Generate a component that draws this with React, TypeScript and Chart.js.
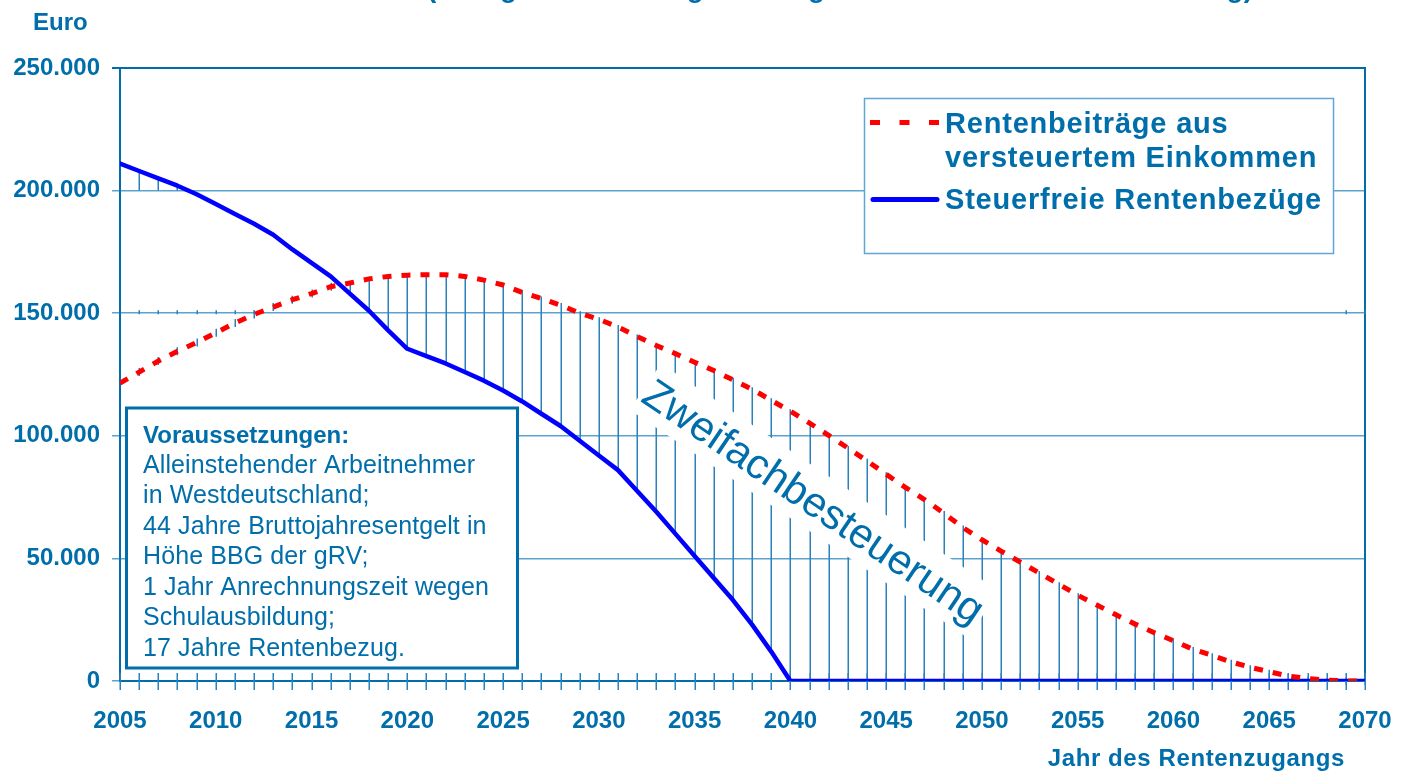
import React, { useEffect, useRef } from "react";
import { Chart, registerables } from "chart.js";

Chart.register(...registerables);

// ---------- data ----------
const years = [
  2005, 2006, 2007, 2008, 2009, 2010, 2011, 2012, 2013, 2014, 2015, 2016, 2017, 2018, 2019, 2020, 2021,
  2022, 2023, 2024, 2025, 2026, 2027, 2028, 2029, 2030, 2031, 2032, 2033, 2034, 2035, 2036, 2037, 2038,
  2039, 2040, 2041, 2042, 2043, 2044, 2045, 2046, 2047, 2048, 2049, 2050, 2051, 2052, 2053, 2054, 2055,
  2056, 2057, 2058, 2059, 2060, 2061, 2062, 2063, 2064, 2065, 2066, 2067, 2068, 2069, 2070,
];

// Rentenbeiträge aus versteuertem Einkommen (Euro)
const rentenbeitraege = [
  121500, 126000, 130500, 134500, 138000, 142000, 146000, 149500, 152500, 155500, 158000, 160800, 162300,
  164000, 165000, 165500, 165700, 165700, 165000, 163500, 161500, 158500, 156000, 153300, 150000, 147500,
  144400, 140500, 136800, 133500, 130000, 126600, 122800, 119000, 114500, 110000, 105200, 100200, 95000,
  89800, 84300, 79000, 74000, 68500, 62600, 57600, 53000, 48500, 44000, 39500, 35000, 31000, 27000, 23200,
  19700, 16400, 13000, 10500, 7800, 5600, 3800, 2000, 1000, 400, 0, 0,
];

// Steuerfreie Rentenbezüge (Euro)
const steuerfreieRente = [
  211000, 208000, 205000, 202000, 198500, 194500, 190500, 186500, 182000, 176000, 170500, 165000, 158000,
  151000, 143000, 135500, 132500, 129500, 126000, 122500, 118500, 114000, 109000, 104000, 98000, 92000,
  86000, 77500, 69000, 60000, 51000, 42000, 33000, 23000, 12000, 0, 0, 0, 0, 0, 0, 0, 0, 0, 0, 0, 0, 0, 0,
  0, 0, 0, 0, 0, 0, 0, 0, 0, 0, 0, 0, 0, 0, 0, 0, 0,
];

const seriesLabels = ["Rentenbeiträge aus versteuertem Einkommen", "Steuerfreie Rentenbezüge"];
const legendLines = [["Rentenbeiträge aus", "versteuertem Einkommen"], ["Steuerfreie Rentenbezüge"]];
const yAxisTitle = "Euro";
const xAxisTitle = "Jahr des Rentenzugangs";
const chartTitle = "(bezogen auf Beitragszahlung und steuerfreie Rentenzahlung)";
const annotationText = "Zweifachbesteuerung";
const boxTitle = "Voraussetzungen:";
const boxLines = [
  "Alleinstehender Arbeitnehmer",
  "in Westdeutschland;",
  "44 Jahre Bruttojahresentgelt in",
  "Höhe BBG der gRV;",
  "1 Jahr Anrechnungszeit wegen",
  "Schulausbildung;",
  "17 Jahre Rentenbezug.",
];

// ---------- styles ----------
const FONT = "'Liberation Sans', Arial, sans-serif";
const TEXT_BLUE = "#006eaa";
const GRID_BLUE = "#5ea3cf";
const HATCH_BLUE = "#2a82bc";
const RED = "#ff0000";
const LINE_BLUE = "#0000ff";

const fmt = (v: number) => String(v).replace(/\B(?=(\d{3})+(?!\d))/g, ".");

function seg(ctx: CanvasRenderingContext2D, x1: number, y1: number, x2: number, y2: number) {
  ctx.beginPath();
  ctx.moveTo(x1, y1);
  ctx.lineTo(x2, y2);
  ctx.stroke();
}

const decorPlugin = {
  id: "decor",
  beforeDatasetsDraw(chart: any) {
    const { ctx, chartArea: a, scales } = chart;
    const xs = scales.x;
    const ys = scales.y;
    ctx.save();

    // right frame line
    ctx.strokeStyle = TEXT_BLUE;
    ctx.lineWidth = 2;
    seg(ctx, a.right, a.top - 1, a.right, a.bottom + 1);

    // hatch lines & year ticks
    ctx.strokeStyle = HATCH_BLUE;
    ctx.lineWidth = 1.5;
    years.forEach((yr, i) => {
      const px = Math.round(xs.getPixelForValue(yr)) + 0.25;
      const r = rentenbeitraege[i];
      const b = steuerfreieRente[i];
      if (r > b) {
        seg(ctx, px, ys.getPixelForValue(b), px, ys.getPixelForValue(r) - 2);
      } else if (i > 0) {
        if (b > 200000) seg(ctx, px, ys.getPixelForValue(b), px, ys.getPixelForValue(200000));
        if (r < 150000) {
          const g = ys.getPixelForValue(150000);
          seg(ctx, px, g - 3, px, g + 1);
        }
        const rp = ys.getPixelForValue(r);
        seg(ctx, px, rp - 4, px, rp + 4);
      }
      seg(ctx, px, a.bottom - 8, px, a.bottom + 9);
    });

    // rotated annotation with white background
    ctx.save();
    ctx.translate(806, 513);
    ctx.rotate((34 * Math.PI) / 180);
    ctx.font = `42px ${FONT}`;
    const w = ctx.measureText(annotationText).width;
    ctx.fillStyle = "#ffffff";
    ctx.fillRect(-w / 2 - 3, -43, w + 6, 56);
    ctx.fillStyle = TEXT_BLUE;
    ctx.textAlign = "center";
    ctx.textBaseline = "alphabetic";
    ctx.fillText(annotationText, 0, 0);
    ctx.restore();

    // Voraussetzungen box
    ctx.fillStyle = "#ffffff";
    ctx.fillRect(126, 408, 392, 261);
    ctx.strokeStyle = TEXT_BLUE;
    ctx.lineWidth = 3;
    ctx.strokeRect(126.5, 408, 391, 260);
    ctx.fillStyle = TEXT_BLUE;
    ctx.textAlign = "left";
    ctx.textBaseline = "alphabetic";
    ctx.font = `bold 24px ${FONT}`;
    ctx.fillText(boxTitle, 143, 442.5);
    ctx.font = `25px ${FONT}`;
    (ctx as any).letterSpacing = "0.1px";
    boxLines.forEach((t, i) => ctx.fillText(t, 143, 472.8 + i * 30.45));
    (ctx as any).letterSpacing = "0px";

    // legend
    ctx.fillStyle = "#ffffff";
    ctx.fillRect(864, 98, 470, 156);
    ctx.strokeStyle = "#5fa6d6";
    ctx.lineWidth = 1.5;
    ctx.strokeRect(864.5, 98.5, 469, 155);
    ctx.lineWidth = 5;
    ctx.strokeStyle = RED;
    ctx.setLineDash([10, 19.5]);
    ctx.lineCap = "butt";
    seg(ctx, 870, 122.5, 940, 122.5);
    ctx.setLineDash([]);
    ctx.strokeStyle = LINE_BLUE;
    ctx.lineCap = "round";
    seg(ctx, 873, 199.5, 937, 199.5);
    ctx.fillStyle = TEXT_BLUE;
    ctx.font = `bold 29px ${FONT}`;
    (ctx as any).letterSpacing = "0.8px";
    ctx.fillText(legendLines[0][0], 945, 133);
    ctx.fillText(legendLines[0][1], 945, 167);
    ctx.fillText(legendLines[1][0], 945, 209);
    (ctx as any).letterSpacing = "0px";

    ctx.restore();
  },
  afterDraw(chart: any) {
    const { ctx } = chart;
    ctx.save();
    ctx.fillStyle = TEXT_BLUE;
    ctx.font = `bold 24px ${FONT}`;
    ctx.textBaseline = "alphabetic";
    ctx.textAlign = "left";
    ctx.fillText(yAxisTitle, 33, 30);
    ctx.textAlign = "right";
    (ctx as any).letterSpacing = "0.6px";
    ctx.fillText(xAxisTitle, 1345, 766);
    (ctx as any).letterSpacing = "0px";
    ctx.textAlign = "center";
    ctx.font = `bold 28px ${FONT}`;
    ctx.fillText(chartTitle, 840, -3);
    ctx.restore();
  },
};

export default function App() {
  const ref = useRef<HTMLCanvasElement>(null);

  useEffect(() => {
    if (!ref.current) return;
    const chart = new Chart(ref.current, {
      type: "line",
      data: {
        datasets: [
          {
            label: seriesLabels[0],
            data: years.map((x, i) => ({ x, y: rentenbeitraege[i] })),
            borderColor: RED,
            borderWidth: 5,
            borderDash: [9, 10],
            pointRadius: 0,
            fill: false,
            tension: 0,
          },
          {
            label: seriesLabels[1],
            data: years.map((x, i) => ({ x, y: steuerfreieRente[i] })),
            borderColor: LINE_BLUE,
            borderWidth: 4.5,
            borderCapStyle: "round",
            borderJoinStyle: "round",
            pointRadius: 0,
            fill: false,
            tension: 0,
          },
        ],
      },
      options: {
        responsive: false,
        animation: false,
        layout: { padding: { top: 68, right: 44, left: 0, bottom: 0 } },
        plugins: { legend: { display: false }, tooltip: { enabled: false }, title: { display: false } },
        scales: {
          x: {
            type: "linear",
            min: 2005,
            max: 2070,
            afterFit: (s: any) => {
              s.height = 90;
              s.paddingLeft = 0;
              s.paddingRight = 0;
            },
            ticks: {
              stepSize: 5,
              autoSkip: false,
              maxRotation: 0,
              padding: 26,
              color: TEXT_BLUE,
              font: { family: FONT, size: 24, weight: "bold" },
              callback: (v: any) => String(v),
            },
            grid: { display: false, drawTicks: false },
            border: { display: true, color: TEXT_BLUE, width: 2 },
          },
          y: {
            min: 0,
            max: 250000,
            afterFit: (s: any) => {
              s.width = 120;
              s.paddingTop = 0;
              s.paddingBottom = 0;
            },
            ticks: {
              stepSize: 50000,
              padding: 12,
              color: TEXT_BLUE,
              font: { family: FONT, size: 24, weight: "bold" },
              callback: (v: any) => fmt(Number(v)),
            },
            grid: {
              color: (c: any) => (c.tick && c.tick.value === 250000 ? TEXT_BLUE : GRID_BLUE),
              lineWidth: (c: any) => (c.tick && c.tick.value === 250000 ? 2 : 1.5),
              tickLength: 8,
              drawTicks: true,
            },
            border: { display: true, color: TEXT_BLUE, width: 2 },
          },
        },
      } as any,
      plugins: [decorPlugin],
    });
    return () => chart.destroy();
  }, []);

  return (
    <div style={{ position: "absolute", left: 0, top: 0, width: 1409, height: 771, background: "#fff" }}>
      <canvas ref={ref} width={1409} height={771} style={{ display: "block" }} />
    </div>
  );
}
